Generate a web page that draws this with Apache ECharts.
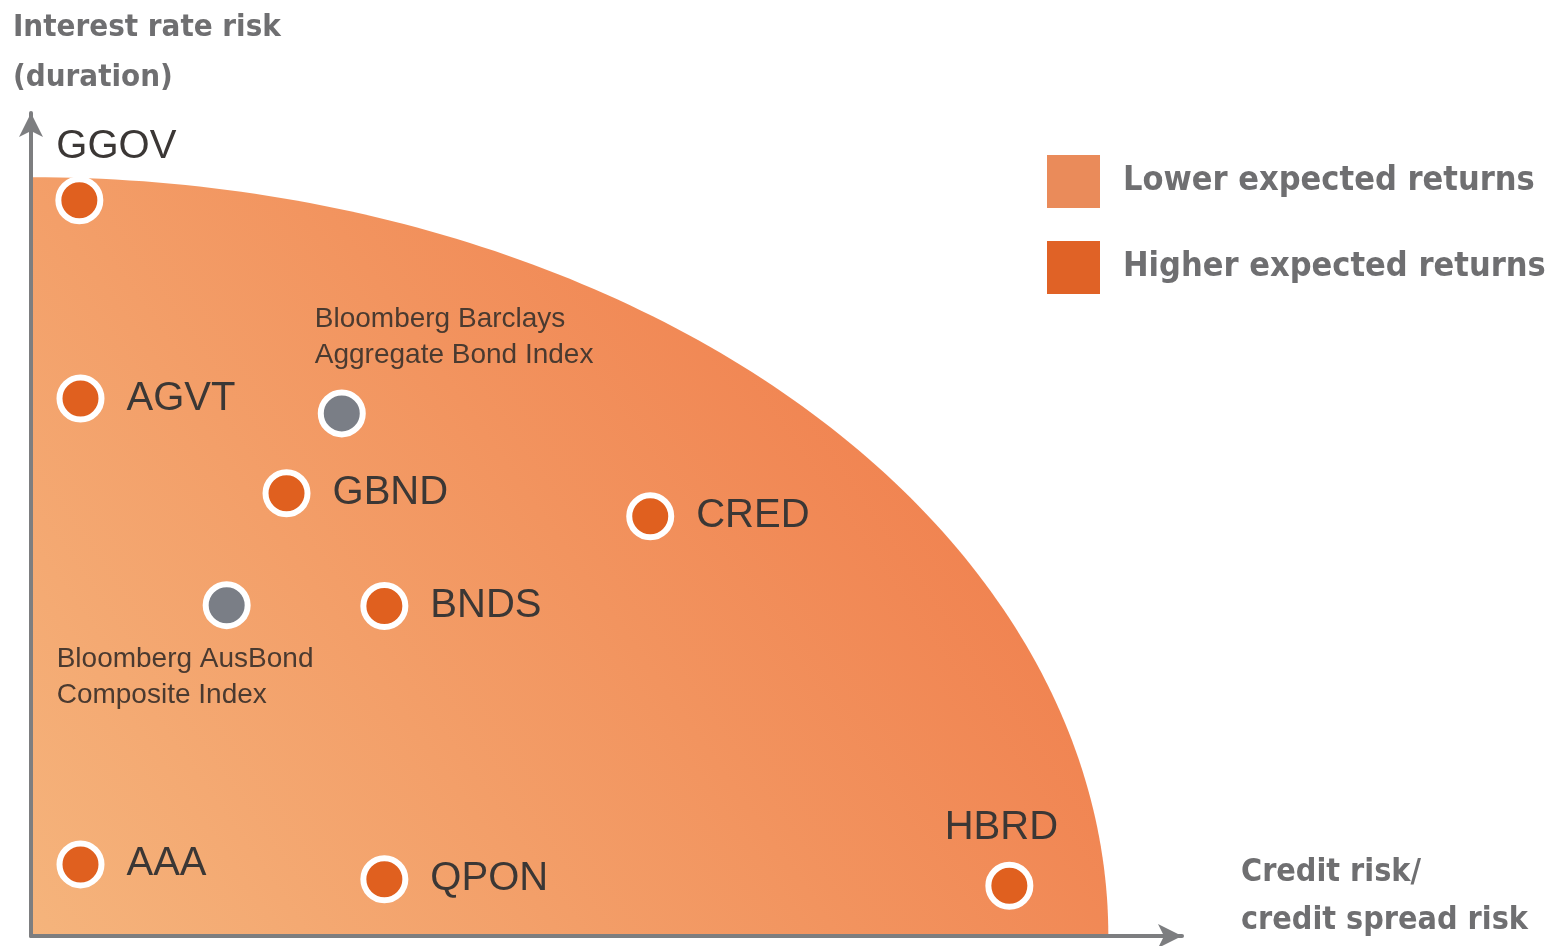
<!DOCTYPE html>
<html>
<head>
<meta charset="utf-8">
<script src="https://cdn.jsdelivr.net/npm/echarts@6/dist/echarts.min.js"></script>
<style>
  html, body { margin: 0; padding: 0; background: #fff; }
  #chart { width: 1555px; height: 946px; }
</style>
</head>
<body>
<div id="chart"></div>
<script>
// fund positions: [credit risk, interest rate risk]
const fundNames = ['GGOV', 'AGVT', 'GBND', 'CRED', 'BNDS', 'AAA', 'QPON', 'HBRD']
const fundCredit = [4.2, 4.3, 22.2, 53.8, 30.7, 4.3, 30.7, 85.0]
const fundDuration = [89.4, 65.3, 53.8, 51.0, 40.1, 8.7, 6.9, 6.1]

const indexNames = ['Bloomberg Barclays\nAggregate Bond Index', 'Bloomberg AusBond\nComposite Index']
const indexCredit = [27.0, 17.0]
const indexDuration = [63.5, 40.2]

// the shaded frontier (quarter ellipse), radii in axis units
const frontier = [93.6, 92.2]

const legendNames = ['Lower expected returns', 'Higher expected returns']

const orange = '#e0601f'
const grey = '#7a7e86'
const condensed = '"Liberation Sans Narrow", "Arial Narrow", "DejaVu Sans Condensed", sans-serif'
const plain = '"Liberation Sans", Arial, Helvetica, sans-serif'

// per-point label placement
const fundLabels = {
  GGOV: { position: 'top', distance: 9, offset: [37, 0] },
  HBRD: { position: 'top', distance: 14, offset: [-8, 0] },
}

const chart = echarts.init(document.getElementById('chart'))

chart.setOption({
  animation: false,
  title: [
    {
      text: 'Interest rate risk\n(duration)',
      left: 8,
      top: -2,
      textStyle: { fontFamily: condensed, fontWeight: 'bold', fontSize: 31, lineHeight: 50, color: '#6f6f71' },
    },
    {
      text: 'Credit risk/\ncredit spread risk',
      left: 1236,
      top: 844,
      textStyle: { fontFamily: condensed, fontWeight: 'bold', fontSize: 32, lineHeight: 48, color: '#6f6f71' },
    },
  ],
  legend: {
    orient: 'vertical',
    left: 1042,
    top: 150,
    itemWidth: 53,
    itemHeight: 53,
    itemGap: 33,
    selectedMode: false,
    icon: 'rect',
    data: legendNames,
    itemStyle: { opacity: 1 },
    textStyle: { fontFamily: condensed, fontWeight: 'bold', fontSize: 34, color: '#6f6f71', padding: [0, 0, 0, 18] },
  },
  grid: { left: 31, right: 373, top: 113, bottom: 10 },
  xAxis: {
    type: 'value',
    min: 0,
    max: 100,
    axisLine: { show: true, symbol: ['none', 'arrow'], symbolSize: [18, 24], lineStyle: { color: '#7d7e80', width: 4 } },
    axisTick: { show: false },
    axisLabel: { show: false },
    splitLine: { show: false },
    z: 5,
  },
  yAxis: {
    type: 'value',
    min: 0,
    max: 100,
    axisLine: { show: true, symbol: ['none', 'arrow'], symbolSize: [18, 24], lineStyle: { color: '#7d7e80', width: 4 } },
    axisTick: { show: false },
    axisLabel: { show: false },
    splitLine: { show: false },
    z: 5,
  },
  series: [
    {
      type: 'custom',
      silent: true,
      z: 1,
      data: [frontier],
      renderItem: (params, api) => {
        const o = api.coord([0, 0])
        const ex = api.coord([api.value(0), 0])
        const ey = api.coord([0, api.value(1)])
        const rx = ex[0] - o[0]
        const ry = o[1] - ey[1]
        const pts = [[o[0], o[1]]]
        for (let i = 0; i <= 120; i++) {
          const a = (Math.PI / 2) * (i / 120)
          pts.push([o[0] + rx * Math.cos(a), o[1] - ry * Math.sin(a)])
        }
        return {
          type: 'polygon',
          shape: { points: pts },
          style: {
            fill: new echarts.graphic.LinearGradient(0, 1, 1, 0, [
              { offset: 0, color: '#f5b47c' },
              { offset: 0.5, color: '#f2945f' },
              { offset: 1, color: '#ef7444' },
            ]),
          },
        }
      },
    },
    {
      name: 'funds',
      type: 'scatter',
      z: 10,
      symbolSize: 42,
      itemStyle: { color: orange, borderColor: '#fff', borderWidth: 6, opacity: 1 },
      label: {
        show: true,
        position: 'right',
        distance: 22,
        formatter: (p) => p.name,
        fontFamily: plain,
        fontSize: 40,
        color: '#3b3735',
      },
      data: fundNames.map((n, i) => ({
        name: n,
        value: [fundCredit[i], fundDuration[i]],
        label: fundLabels[n] || {},
      })),
    },
    {
      name: 'indices',
      type: 'scatter',
      z: 10,
      symbolSize: 42,
      itemStyle: { color: grey, borderColor: '#fff', borderWidth: 6, opacity: 1 },
      label: {
        show: true,
        formatter: (p) => p.name,
        fontFamily: plain,
        fontSize: 28,
        lineHeight: 36,
        color: '#4a3a30',
        align: 'left',
      },
      data: indexNames.map((n, i) => ({
        name: n,
        value: [indexCredit[i], indexDuration[i]],
        label: i === 0
          ? { position: 'top', distance: 16, offset: [-27, 0] }
          : { position: 'bottom', distance: 12, offset: [-170, 0] },
      })),
    },
    { name: legendNames[0], type: 'scatter', data: [], itemStyle: { color: '#ea8b5a', opacity: 1 } },
    { name: legendNames[1], type: 'scatter', data: [], itemStyle: { color: '#e06226', opacity: 1 } },
  ],
})
</script>
</body>
</html>
